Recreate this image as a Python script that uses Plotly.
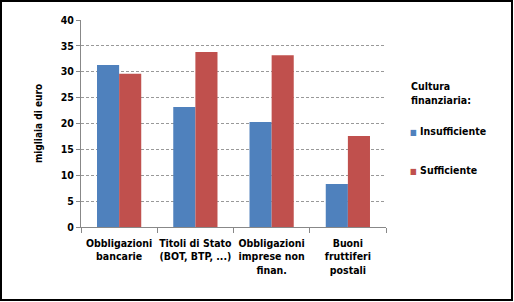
import plotly.graph_objects as go

categories = ["Obbligazioni<br>bancarie", "Titoli di Stato<br>(BOT, BTP, ...)",
              "Obbligazioni<br>imprese non<br>finan.", "Buoni<br>fruttiferi<br>postali"]
insufficiente = [31.3, 23.2, 20.3, 8.3]
sufficiente = [29.6, 33.8, 33.2, 17.6]
series_names = ["Insufficiente", "Sufficiente"]
legend_title = "Cultura<br>finanziaria:"
colors = ["#4F81BD", "#C0504D"]
yticks = [0, 5, 10, 15, 20, 25, 30, 35, 40]

W, H = 514, 302
L, R, T, B = 81, 128, 20, 75
pw, ph = W - L - R, H - T - B

FAM = "DejaVu Sans Condensed"
font = dict(family=FAM, size=10.5, color="black", weight="bold")

fig = go.Figure()
for name, vals, c in zip(series_names, [insufficiente, sufficiente], colors):
    fig.add_trace(go.Bar(x=categories, y=vals, name=name, marker=dict(color=c, line=dict(width=0))))

fig.update_layout(
    width=W, height=H,
    margin=dict(l=L, r=R, t=T, b=B, autoexpand=False),
    paper_bgcolor="white", plot_bgcolor="white",
    barmode="group", bargap=0.42, bargroupgap=0,
    font=font,
    showlegend=False,
    xaxis=dict(showline=True, linecolor="#888888", linewidth=1, ticks="outside",
               tickson="boundaries", ticklen=5, tickcolor="#888888", tickangle=0,
               tickfont=font, showgrid=False, automargin=False, ticklabelstandoff=6),
    yaxis=dict(range=[0, 40], tickvals=yticks, showline=True, linecolor="#888888", linewidth=1,
               ticks="outside", ticklen=4, tickcolor="#888888", tickfont=font,
               showgrid=True, gridcolor="#999999", griddash="3px,2px", gridwidth=1,
               title=dict(text="migliaia di euro", font=dict(family=FAM, size=10, weight="bold"),
                          standoff=16),
               zeroline=False, automargin=False),
)

# legend drawn as text
def px_x(px):
    return (px - L) / pw

def px_y(py):
    return 1 - (py - T) / ph

fig.add_annotation(text=legend_title, xref="paper", yref="paper", x=px_x(409), y=px_y(93),
                   xanchor="left", yanchor="middle", align="left", showarrow=False, font=font)
for i, (name, c) in enumerate(zip(series_names, colors)):
    fig.add_annotation(text=f'<span style="color:{c};font-size:8px">■</span> {name}',
                       xref="paper", yref="paper",
                       x=px_x(408), y=px_y(131 + 39 * i), xanchor="left", yanchor="middle",
                       showarrow=False, font=font)

fig.add_shape(type="rect", xref="paper", yref="paper",
              x0=-(L - 1) / pw, x1=(W - L - 2) / pw, y0=-(B - 2) / ph, y1=1 + (T - 1) / ph,
              line=dict(color="black", width=2), fillcolor="rgba(0,0,0,0)", layer="above")

fig.write_html("out.html")
